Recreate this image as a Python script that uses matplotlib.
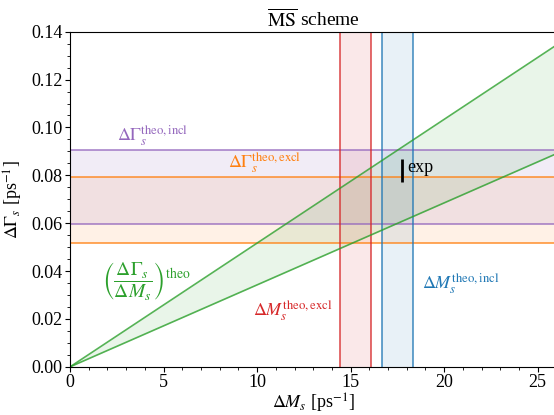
import numpy as np
import matplotlib
matplotlib.use("Agg")
import matplotlib.pyplot as plt
from matplotlib.ticker import MultipleLocator, FormatStrFormatter

plt.rcParams['font.family'] = 'serif'
plt.rcParams['font.serif'] = ['Liberation Serif', 'DejaVu Serif']
plt.rcParams['mathtext.fontset'] = 'stix'

dms_excl = [14.43, 16.09]      # ps^-1
dms_incl = [16.66, 18.35]
dg_excl = [0.0519, 0.0793]     # ps^-1
dg_incl = [0.0596, 0.0907]
ratio_theo = [0.003425, 0.00517]   # (dGamma/dM)^theo, lower and upper
exp_dms = 17.73
exp_dg = 0.082
exp_dg_err = 0.0048

XMAX = 26
YMAX = 0.14

c_purple = '#9467bd'
c_orange = '#ff7f0e'
c_red = '#d62728'
c_blue = '#1f77b4'
c_green = '#2ca02c'

fig = plt.figure(figsize=(5.54, 4.15), dpi=100)
ax = fig.add_axes([0.1264, 0.116, 0.878, 0.8076])

# horizontal bands (Delta Gamma)
ax.axhspan(dg_excl[0], dg_excl[1], color=c_orange, alpha=0.1, lw=0)
ax.axhspan(dg_incl[0], dg_incl[1], color=c_purple, alpha=0.12, lw=0)
for v in dg_excl:
    ax.axhline(v, color=c_orange, lw=1.2, alpha=0.8)
for v in dg_incl:
    ax.axhline(v, color=c_purple, lw=1.2, alpha=0.8)

# vertical bands (Delta M)
ax.axvspan(dms_excl[0], dms_excl[1], color=c_red, alpha=0.1, lw=0)
ax.axvspan(dms_incl[0], dms_incl[1], color=c_blue, alpha=0.1, lw=0)
for v in dms_excl:
    ax.axvline(v, color=c_red, lw=1.2, alpha=0.8)
for v in dms_incl:
    ax.axvline(v, color=c_blue, lw=1.2, alpha=0.8)

# theory ratio wedge
xs = np.array([0, XMAX])
ax.fill_between(xs, ratio_theo[0] * xs, ratio_theo[1] * xs, color=c_green, alpha=0.1, lw=0)
ax.plot(xs, ratio_theo[0] * xs, color=c_green, lw=1.2, alpha=0.8)
ax.plot(xs, ratio_theo[1] * xs, color=c_green, lw=1.2, alpha=0.8)

# experiment
ax.errorbar([exp_dms], [exp_dg], yerr=[exp_dg_err], fmt='none', ecolor='black', elinewidth=2, capsize=0)

# labels
fs = 13
ax.text(2.5, 0.0965, r'$\Delta\Gamma_s^{\mathrm{theo,incl}}$', color=c_purple, fontsize=fs, va='center')
ax.text(8.45, 0.0853, r'$\Delta\Gamma_s^{\mathrm{theo,excl}}$', color=c_orange, fontsize=fs, va='center')
ax.text(18.0, 0.0832, 'exp', color='black', fontsize=fs, va='center')
ax.text(1.7, 0.0358, r'$\left(\dfrac{\Delta\Gamma_s}{\Delta M_s}\right)^{\mathrm{theo}}$',
        color=c_green, fontsize=14, va='center')
ax.text(9.8, 0.0233, r'$\Delta M_s^{\mathrm{theo,excl}}$', color=c_red, fontsize=fs, va='center')
ax.text(18.8, 0.0345, r'$\Delta M_s^{\mathrm{theo,incl}}$', color=c_blue, fontsize=fs, va='center')

ax.set_xlim(0, XMAX)
ax.set_ylim(0, YMAX)
ax.xaxis.set_major_locator(MultipleLocator(5))
ax.xaxis.set_minor_locator(MultipleLocator(1))
ax.yaxis.set_major_locator(MultipleLocator(0.02))
ax.yaxis.set_minor_locator(MultipleLocator(0.005))
ax.yaxis.set_major_formatter(FormatStrFormatter('%.2f'))
ax.tick_params(labelsize=13, pad=2)

ax.set_xlabel(r'$\Delta M_s$ [ps$^{-1}$]', fontsize=13, labelpad=0)
ax.set_ylabel(r'$\Delta\Gamma_s$ [ps$^{-1}$]', fontsize=13, labelpad=4)
ax.set_title(r'$\overline{\mathrm{MS}}$ scheme', fontsize=14, pad=4)

fig.savefig('out.png', dpi=100)
